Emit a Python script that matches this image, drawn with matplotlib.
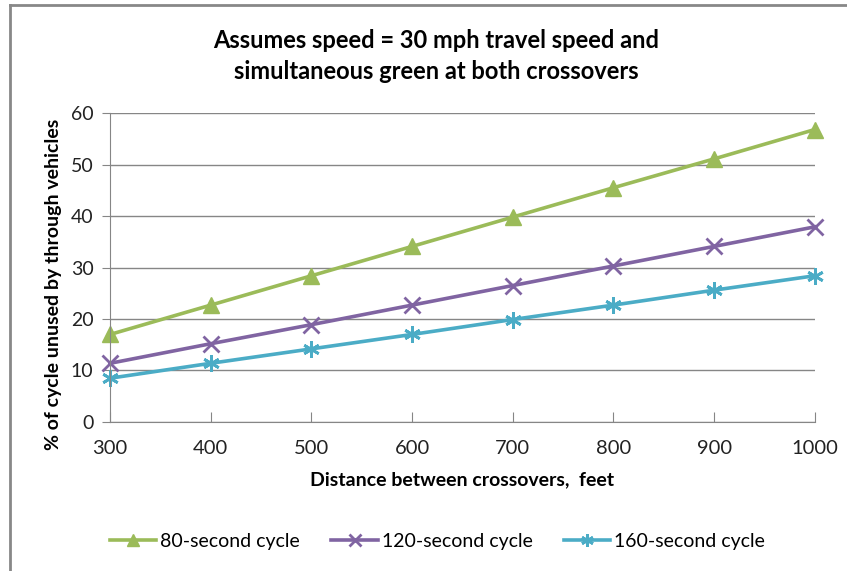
import matplotlib
matplotlib.use('Agg')
import matplotlib.pyplot as plt
from matplotlib.lines import Line2D

# datos
distancia = [300, 400, 500, 600, 700, 800, 900, 1000]
ciclo80 = [17.0, 22.7, 28.4, 34.1, 39.8, 45.5, 51.1, 56.8]
ciclo120 = [11.4, 15.2, 18.9, 22.7, 26.5, 30.3, 34.1, 37.9]
ciclo160 = [8.5, 11.4, 14.2, 17.0, 19.9, 22.7, 25.6, 28.4]
etiquetas = ['80-second cycle', '120-second cycle', '160-second cycle']
yticks = [0, 10, 20, 30, 40, 50, 60]

plt.rcParams['font.family'] = ['Lato', 'DejaVu Sans']
gris = '#868686'

fig = plt.figure(figsize=(8.47, 5.71), dpi=100)
ax = fig.add_axes([0.130, 0.261, 0.832, 0.541])

ax.plot(distancia, ciclo80, color='#9BBB59', lw=2.6, marker='^', ms=11, label=etiquetas[0], clip_on=False)
ax.plot(distancia, ciclo120, color='#8064A2', lw=2.6, marker='x', ms=11, mew=2, label=etiquetas[1], clip_on=False)
ax.plot(distancia, ciclo160, color='#4BACC6', lw=2.6, marker=(6, 2, 0), ms=12, mew=2, label=etiquetas[2], clip_on=False)

ax.set_xlim(300, 1000)
ax.set_ylim(0, 60)
ax.set_yticks(yticks)
ax.set_xticks(distancia)
ax.yaxis.grid(True, color=gris, lw=1)
ax.set_axisbelow(True)
for s in ['top', 'right']:
    ax.spines[s].set_visible(False)
for s in ['left', 'bottom']:
    ax.spines[s].set_color(gris)
ax.tick_params(axis='y', direction='out', length=6, color=gris, labelsize=14, pad=6)
ax.tick_params(axis='x', direction='in', length=7, color=gris, labelsize=14.5, pad=13)
for lb in ax.get_xticklabels() + ax.get_yticklabels():
    lb.set_color('#222222')

ax.set_xlabel('Distance between crossovers,  feet', fontsize=14, fontweight='bold', labelpad=10)
ax.set_ylabel('% of cycle unused by through vehicles', fontsize=14, fontweight='bold')
ax.yaxis.set_label_coords(-0.068, 0.445)

fig.text(0.515, 0.902, 'Assumes speed = 30 mph travel speed and\nsimultaneous green at both crossovers',
         ha='center', va='center', fontsize=17, fontweight='bold', linespacing=1.4)

fig.legend(loc='center', bbox_to_anchor=(0.5165, 0.052), ncol=3, frameon=False, fontsize=14,
           handlelength=2.4, columnspacing=1.6, handletextpad=0.2, markerscale=0.75)

# marco del grafico
fig.add_artist(Line2D([0.0118, 0.0118], [0, 0.991], color='#888888', lw=2, transform=fig.transFigure))
fig.add_artist(Line2D([0.0118, 1.0], [0.991, 0.991], color='#888888', lw=2, transform=fig.transFigure))

fig.savefig('out.png', dpi=100)
